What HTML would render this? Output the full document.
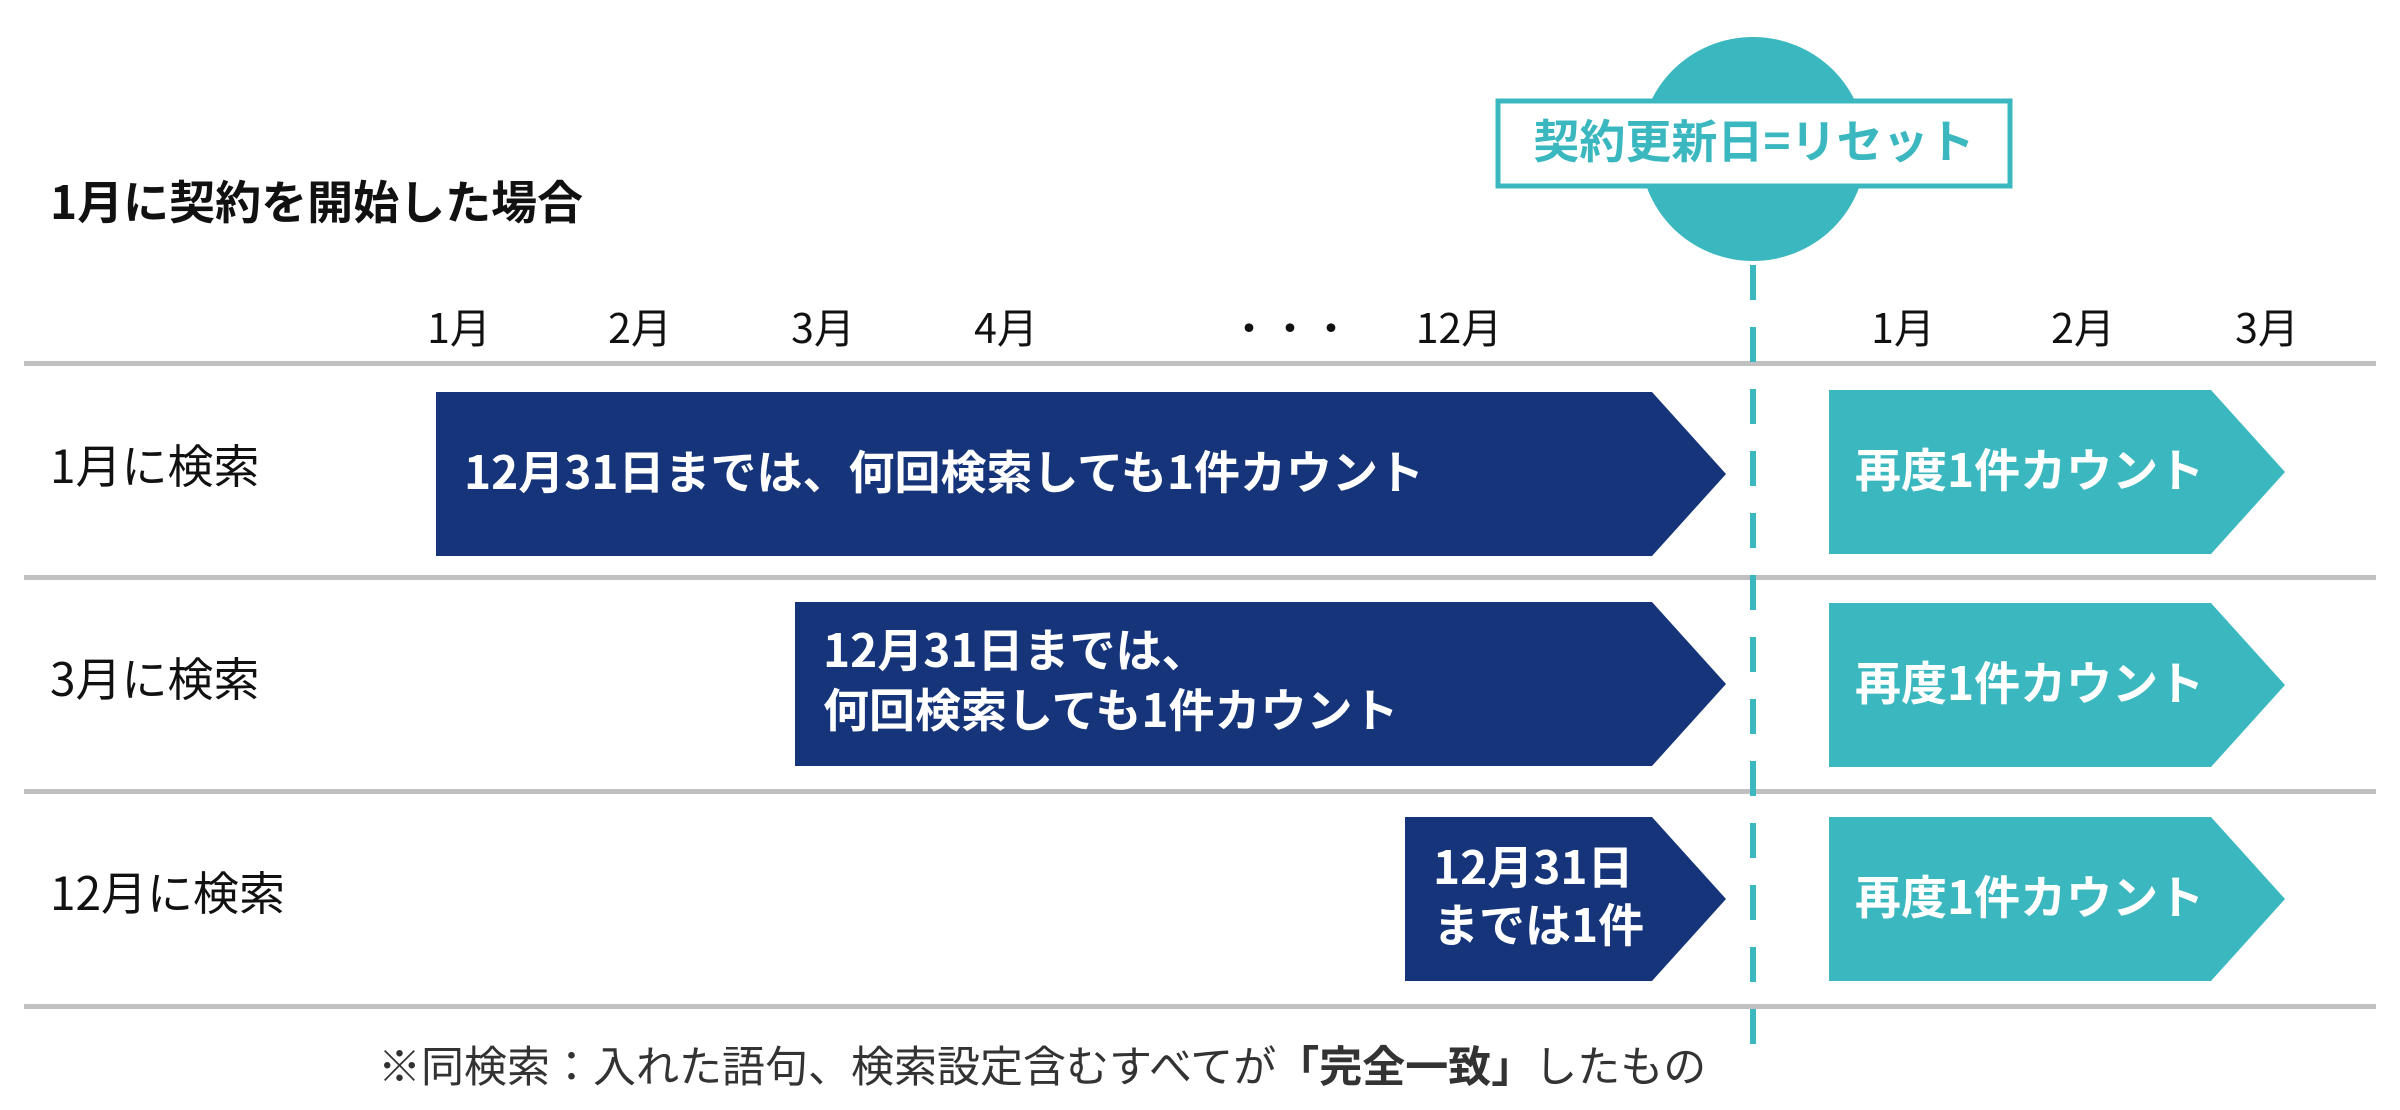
<!DOCTYPE html>
<html><head><meta charset="utf-8"><style>
html,body{margin:0;padding:0;background:#fff;}
svg{display:block;}
text{font-family:"Noto Sans CJK JP","Liberation Sans",sans-serif;}
</style></head><body>
<svg width="2400" height="1110" viewBox="0 0 2400 1110" xmlns="http://www.w3.org/2000/svg">
<rect width="2400" height="1110" fill="#fff"/>
<ellipse cx="1753" cy="149" rx="113" ry="112" fill="#3bb8bf"/>
<rect x="1498" y="101" width="512" height="85" fill="#fff" stroke="#3bb8bf" stroke-width="5"/>
<text x="1754" y="158" font-size="46" font-weight="bold" fill="#3bb8bf" text-anchor="middle">契約更新日=リセット</text>
<text x="50" y="219" font-size="46" font-weight="bold" fill="#111">1月に契約を開始した場合</text>
<g font-size="41" fill="#111" text-anchor="middle">
<text x="459" y="343">1月</text><text x="640" y="343">2月</text><text x="823" y="343">3月</text><text x="1006" y="343">4月</text>
<text x="1290" y="343">・・・</text><text x="1459" y="343">12月</text>
<text x="1903" y="343">1月</text><text x="2083" y="343">2月</text><text x="2267" y="343">3月</text>
</g>
<g fill="#c0c0c0">
<rect x="24" y="361" width="2352" height="5"/>
<rect x="24" y="575" width="2352" height="5"/>
<rect x="24" y="789" width="2352" height="5"/>
<rect x="24" y="1004" width="2352" height="5"/>
</g>
<line x1="1753" y1="265" x2="1753" y2="1065" stroke="#3bb8bf" stroke-width="6" stroke-dasharray="35 27"/>
<g font-size="46" fill="#111">
<text x="50" y="483">1月に検索</text>
<text x="50" y="696">3月に検索</text>
<text x="50" y="910">12月に検索</text>
</g>
<g fill="#15347a">
<polygon points="436,392 1652,392 1726,474 1652,556 436,556"/>
<polygon points="795,602 1652,602 1726,684 1652,766 795,766"/>
<polygon points="1405,817 1652,817 1726,899 1652,981 1405,981"/>
</g>
<g fill="#3bb8bf">
<polygon points="1829,390 2211,390 2285,472 2211,554 1829,554"/>
<polygon points="1829,603 2211,603 2285,685 2211,767 1829,767"/>
<polygon points="1829,817 2211,817 2285,899 2211,981 1829,981"/>
</g>
<g font-size="46" font-weight="bold" fill="#fff">
<text x="464" y="489">12月31日までは、何回検索しても1件カウント</text>
<text x="823" y="667">12月31日までは、</text>
<text x="823" y="727">何回検索しても1件カウント</text>
<text x="1433" y="884">12月31日</text>
<text x="1433" y="942">までは1件</text>
<text x="1855" y="487">再度1件カウント</text>
<text x="1855" y="700">再度1件カウント</text>
<text x="1855" y="914">再度1件カウント</text>
</g>
<text x="378" y="1082" font-size="43" fill="#333">※同検索：入れた語句、検索設定含むすべてが<tspan font-weight="bold">「完全一致」</tspan>したもの</text>
</svg>
</body></html>
